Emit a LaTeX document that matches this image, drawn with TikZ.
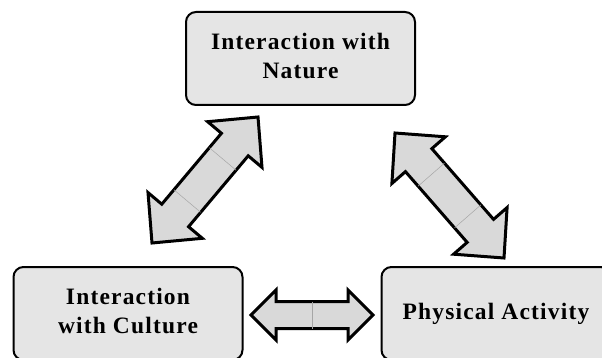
\documentclass[tikz,border=0pt]{standalone}
\usepackage{fontspec}
\newfontfamily\boxfont{Liberation Serif}[LetterSpace=5]
\usetikzlibrary{calc}

\definecolor{boxgray}{gray}{0.9}
\definecolor{arrowgray}{gray}{0.85}

\tikzset{
    theme/.style={draw=black, line width=2pt, fill=boxgray, rounded corners=10pt,
        minimum width=229pt, minimum height=93pt, align=center, text depth=5pt,
        font=\boxfont\bfseries\fontsize{23.5}{28.5}\selectfont},
    arrowbody/.style={draw=black, line width=3pt, fill=arrowgray, line join=miter},
    seam/.style={black!35, line width=0.5pt}
}

% block arrow from tip #1 to tip #2: head length #3, half head #4, half shaft #5
\newcommand{\blockarrow}[5]{%
    \filldraw[arrowbody] (#1)
        -- ($(#1)!#3!(#2)!#4!90:(#2)$) -- ($(#1)!#3!(#2)!#5!90:(#2)$)
        -- ($(#2)!#3!(#1)!#5!-90:(#1)$) -- ($(#2)!#3!(#1)!#4!-90:(#1)$)
        -- (#2)
        -- ($(#2)!#3!(#1)!#4!90:(#1)$) -- ($(#2)!#3!(#1)!#5!90:(#1)$)
        -- ($(#1)!#3!(#2)!#5!-90:(#2)$) -- ($(#1)!#3!(#2)!#4!-90:(#2)$)
        -- cycle;}
% thin seam across the shaft at fraction #3, half shaft #4
\newcommand{\seamline}[4]{%
    \draw[seam] ($(#1)!#3!(#2)!#4!90:(#2)$) -- ($(#1)!#3!(#2)!#4!-90:(#2)$);}

\begin{document}
\begin{tikzpicture}[x=1pt,y=-1pt]
    \useasboundingbox (0,0) rectangle (602,358);

    % the three boxes
    \node[theme] (nature) at (300.5,58.5) {Interaction with\\Nature};
    \node[theme] (culture) at (128,313.5) {Interaction\\with Culture};
    \node[theme] (activity) at (496,313.5) {Physical Activity};

    % tips of the arrows
    \coordinate (cultureN) at (152,243);
    \coordinate (natureC) at (258,117);
    \coordinate (natureA) at (395,133);
    \coordinate (activityN) at (504,258);
    \coordinate (cultureA) at (251,315);
    \coordinate (activityC) at (373,315);

    % culture - nature
    \blockarrow{cultureN}{natureC}{36pt}{35.5pt}{17.5pt}
    \seamline{cultureN}{natureC}{0.333}{17.5pt}
    \seamline{cultureN}{natureC}{0.667}{17.5pt}

    % nature - activity
    \blockarrow{natureA}{activityN}{36pt}{35.5pt}{17.5pt}
    \seamline{natureA}{activityN}{0.333}{17.5pt}
    \seamline{natureA}{activityN}{0.667}{17.5pt}

    % culture - activity
    \blockarrow{cultureA}{activityC}{25pt}{25pt}{13.5pt}
    \seamline{cultureA}{activityC}{0.5}{13.5pt}
\end{tikzpicture}
\end{document}
